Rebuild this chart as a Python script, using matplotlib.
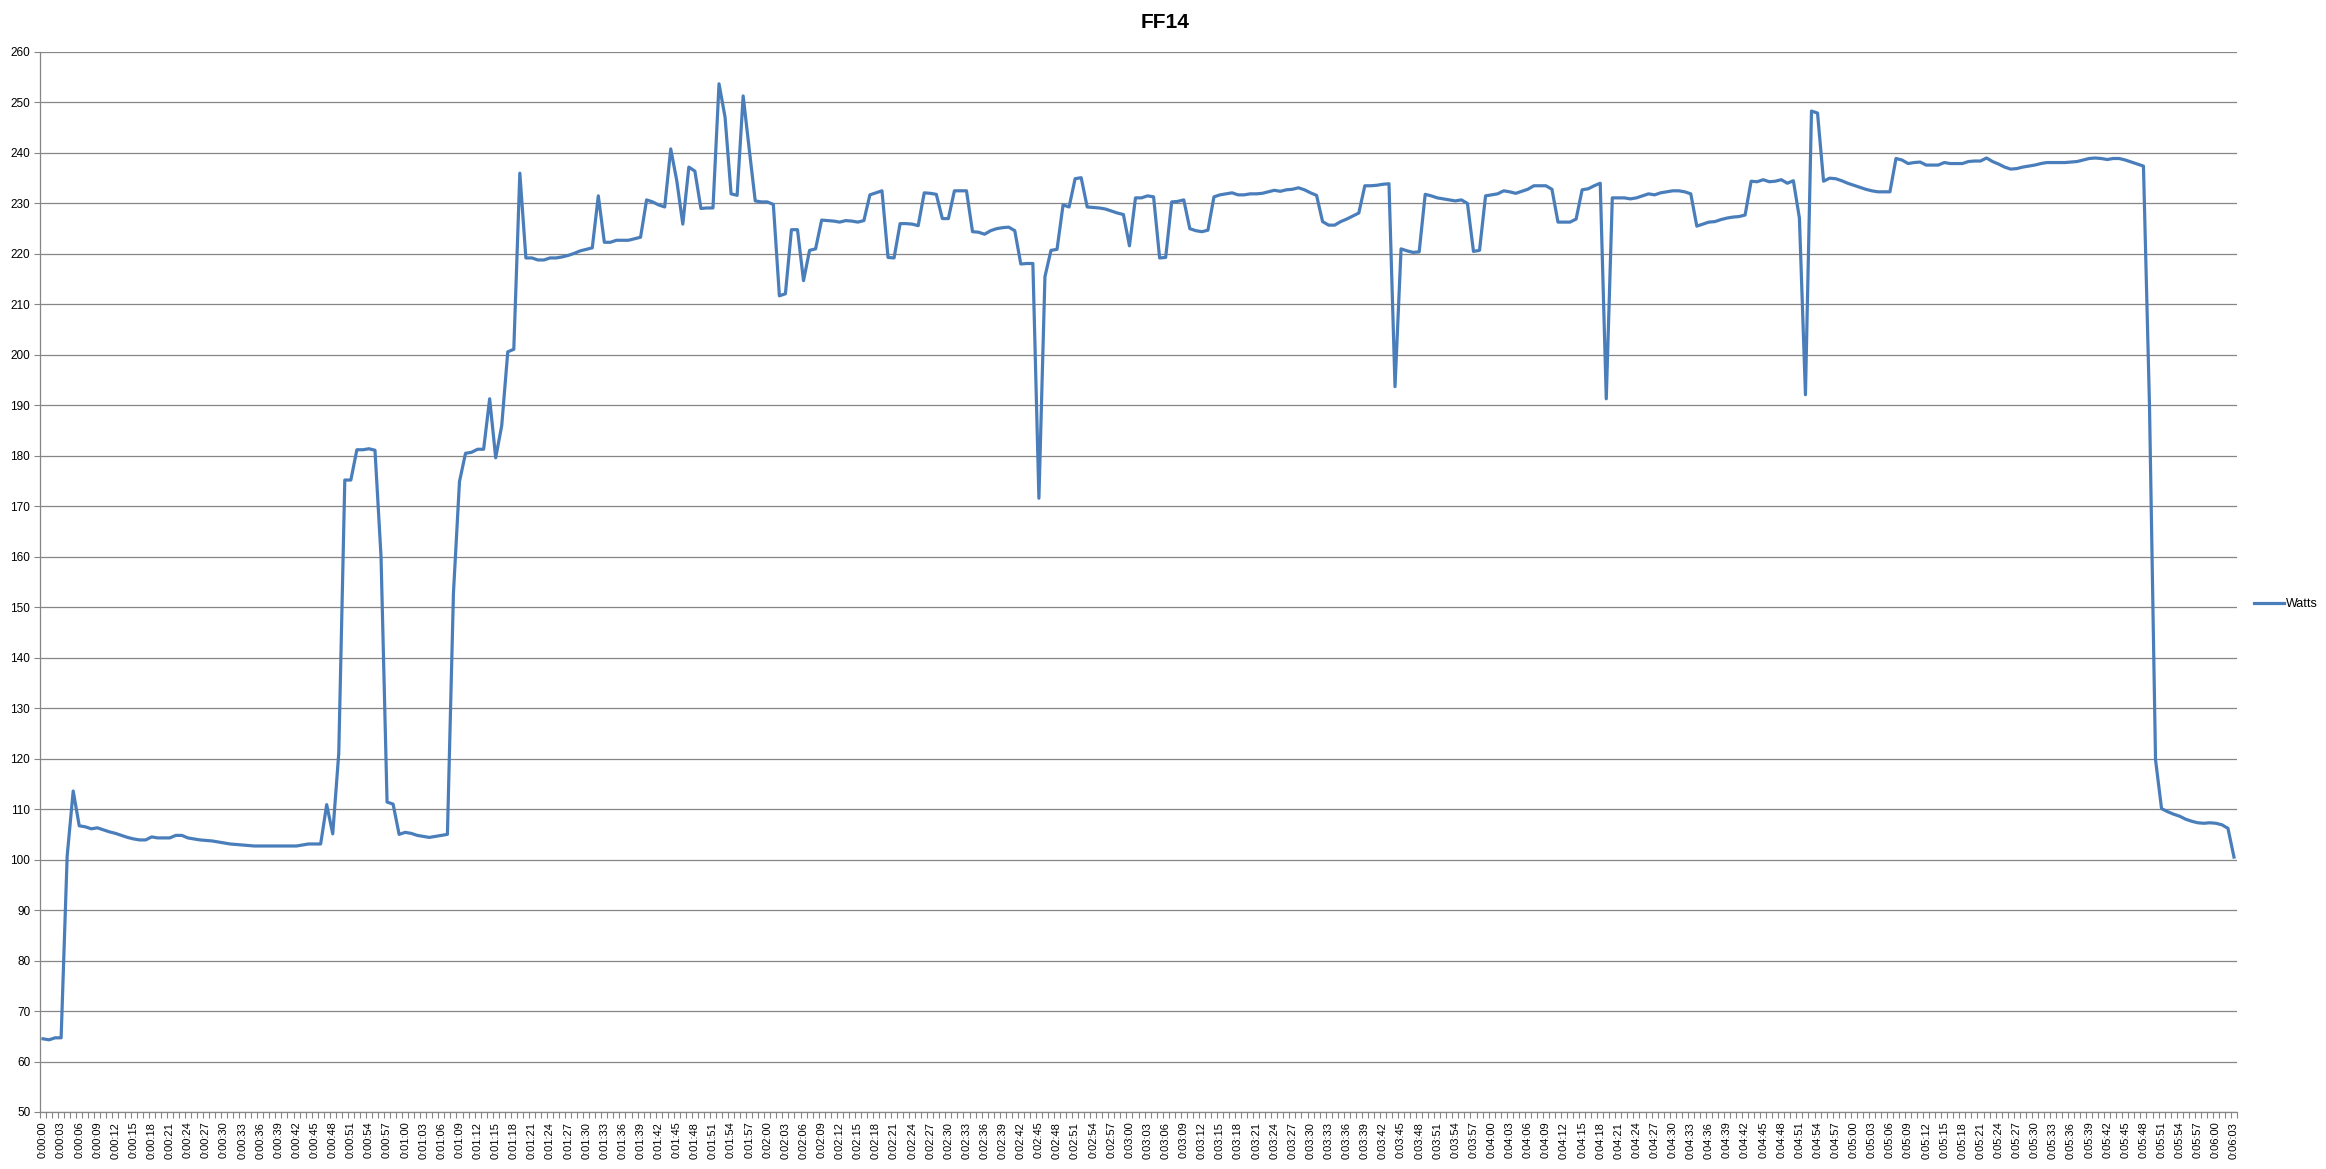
import numpy as np
import matplotlib
matplotlib.use("Agg")
import matplotlib.pyplot as plt

plt.rcParams['font.family'] = ['Liberation Sans', 'DejaVu Sans']

# power readings, one per second (0:00:00 .. 0:06:03)
watts = [
    64.5, 64.3, 64.7, 64.7, 100.7, 113.6, 106.7, 106.5, 106.1, 106.3,
    105.9, 105.5, 105.2, 104.8, 104.4, 104.1, 103.9, 103.9, 104.5, 104.3,
    104.3, 104.3, 104.8, 104.8, 104.3, 104.1, 103.9, 103.8, 103.7, 103.5,
    103.3, 103.1, 103.0, 102.9, 102.8, 102.7, 102.7, 102.7, 102.7, 102.7,
    102.7, 102.7, 102.7, 102.9, 103.1, 103.1, 103.1, 110.9, 105.1, 121.1,
    175.2, 175.2, 181.2, 181.2, 181.4, 181.1, 160.1, 111.4, 111.0, 105.0,
    105.4, 105.2, 104.8, 104.6, 104.4, 104.6, 104.8, 105.0, 152.8, 174.9,
    180.5, 180.7, 181.3, 181.3, 191.3, 179.6, 186.0, 200.6, 201.1, 236.0,
    219.2, 219.2, 218.8, 218.8, 219.2, 219.2, 219.4, 219.7, 220.1, 220.6,
    220.9, 221.2, 231.5, 222.3, 222.3, 222.7, 222.7, 222.7, 223.0, 223.3,
    230.7, 230.3, 229.7, 229.3, 240.8, 234.5, 225.9, 237.2, 236.4, 229.0,
    229.1, 229.1, 253.7, 247.1, 231.9, 231.6, 251.3, 240.8, 230.5, 230.3,
    230.3, 229.8, 211.7, 212.1, 224.8, 224.8, 214.7, 220.7, 221.0, 226.7,
    226.6, 226.5, 226.3, 226.6, 226.5, 226.3, 226.6, 231.7, 232.1, 232.5,
    219.3, 219.2, 226.0, 226.0, 225.9, 225.6, 232.1, 232.0, 231.8, 227.0,
    227.0, 232.5, 232.5, 232.5, 224.4, 224.3, 223.9, 224.6, 225.0, 225.2,
    225.3, 224.6, 218.0, 218.1, 218.1, 171.6, 215.5, 220.7, 220.9, 229.7,
    229.3, 234.9, 235.1, 229.3, 229.2, 229.1, 228.9, 228.5, 228.1, 227.8,
    221.6, 231.1, 231.1, 231.5, 231.3, 219.2, 219.3, 230.3, 230.4, 230.7,
    225.0, 224.6, 224.4, 224.7, 231.3, 231.7, 231.9, 232.1, 231.7, 231.7,
    231.9, 231.9, 232.0, 232.3, 232.6, 232.4, 232.7, 232.8, 233.1, 232.7,
    232.1, 231.6, 226.4, 225.7, 225.7, 226.4, 226.9, 227.5, 228.1, 233.5,
    233.5, 233.6, 233.8, 233.9, 193.7, 221.0, 220.6, 220.3, 220.4, 231.8,
    231.5, 231.1, 230.9, 230.7, 230.5, 230.7, 230.0, 220.5, 220.7, 231.5,
    231.7, 231.9, 232.5, 232.3, 232.0, 232.4, 232.8, 233.5, 233.5, 233.5,
    232.8, 226.3, 226.3, 226.3, 226.9, 232.7, 232.9, 233.5, 234.0, 191.3,
    231.1, 231.1, 231.1, 230.9, 231.1, 231.5, 231.9, 231.7, 232.1, 232.3,
    232.5, 232.5, 232.3, 231.9, 225.5, 225.9, 226.3, 226.4, 226.8, 227.1,
    227.3, 227.4, 227.7, 234.4, 234.3, 234.7, 234.3, 234.4, 234.7, 234.0,
    234.5, 227.1, 192.1, 248.3, 247.9, 234.4, 235.0, 234.9, 234.5, 234.0,
    233.6, 233.2, 232.8, 232.5, 232.3, 232.3, 232.3, 238.9, 238.6, 237.9,
    238.1, 238.2, 237.6, 237.6, 237.6, 238.1, 237.9, 237.9, 237.9, 238.3,
    238.4, 238.4, 239.0, 238.3, 237.8, 237.2, 236.8, 236.9, 237.2, 237.4,
    237.6, 237.9, 238.1, 238.1, 238.1, 238.1, 238.2, 238.3, 238.6, 238.9,
    239.0, 238.9, 238.7, 238.9, 238.9, 238.6, 238.2, 237.8, 237.4, 190.0,
    119.8, 110.1, 109.5, 109.0, 108.6, 108.0, 107.6, 107.3, 107.2, 107.3,
    107.2, 106.9, 106.2, 100.5,
]
seconds = list(range(len(watts)))
time_labels = ["%d:%02d:%02d" % (s // 3600, (s // 60) % 60, s % 60) for s in seconds]

fig = plt.figure(figsize=(23.26, 11.69), dpi=100)
ax = fig.add_axes([40 / 2326, 1 - 1112 / 1169, 2197 / 2326, 1060 / 1169])

ax.plot(seconds, watts, color='#4A7EBB', linewidth=2.3, label='Watts')

ax.set_xlim(-0.5, len(watts) - 0.5)
ax.set_ylim(50, 260)
ax.set_yticks(np.arange(50, 261, 10))
ax.yaxis.grid(True, color='#868686', linewidth=0.9)
ax.set_axisbelow(True)

# labels every third category, tick marks at each category boundary
ax.set_xticks(seconds[::3])
ax.set_xticklabels(time_labels[::3], rotation=90)
ax.set_xticks(np.arange(-0.5, len(watts), 1), minor=True)
ax.tick_params(axis='x', which='major', length=0, pad=7, labelsize=8)
ax.tick_params(axis='x', which='minor', length=4, width=0.8, color='#868686')
ax.tick_params(axis='y', length=4, width=0.8, color='#868686', labelsize=8.5, pad=3)

for side in ['top', 'right']:
    ax.spines[side].set_visible(False)
for side in ['left', 'bottom']:
    ax.spines[side].set_color('#868686')
    ax.spines[side].set_linewidth(0.9)

fig.text(1165 / 2326, 1 - 22 / 1169, 'FF14', ha='center', va='center',
         fontsize=15, fontweight='bold')

ax.legend(loc='center left', bbox_to_anchor=(2243 / 2326, 1 - 604 / 1169),
          bbox_transform=fig.transFigure, frameon=False, fontsize=9,
          handlelength=2.4, handletextpad=0.15)

fig.savefig('out.png', dpi=100)
